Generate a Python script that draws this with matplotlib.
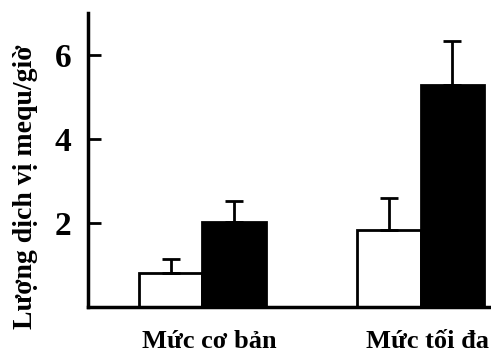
import numpy as np
import matplotlib.pyplot as plt

groups = ["Mức cơ bản", "Mức tối đa"]
white_vals = [0.81, 1.83]
white_err = [0.33, 0.77]
black_vals = [2.02, 5.29]
black_err = [0.50, 1.05]
y_ticks = [2, 4, 6]

plt.rcParams["font.family"] = ["Liberation Serif", "DejaVu Serif"]
plt.rcParams["font.weight"] = "bold"

fig = plt.figure(figsize=(4.91, 3.61), dpi=100)
ax = fig.add_axes([0.179, 0.150, 0.821, 0.814])

x = np.arange(len(groups))
w = 0.29

ax.bar(x - w / 2, white_vals, w, color="white", edgecolor="black", linewidth=2, zorder=2)
ax.bar(x + w / 2, black_vals, w, color="black", edgecolor="black", linewidth=2, zorder=2)

zeros = [0] * len(groups)
ax.errorbar(x - w / 2, white_vals, yerr=[zeros, white_err], fmt="none", ecolor="black",
            elinewidth=2, capsize=6.5, capthick=2, zorder=3)
ax.errorbar(x + w / 2, black_vals, yerr=[zeros, black_err], fmt="none", ecolor="black",
            elinewidth=2, capsize=6.5, capthick=2, zorder=3)

ax.set_xlim(-0.525, 1.323)
ax.set_ylim(0, 7)
ax.set_yticks(y_ticks)
ax.set_yticklabels([str(t) for t in y_ticks], fontsize=24, fontweight="bold")
ax.set_xticks(x + 0.03)
ax.set_xticklabels(groups, fontsize=19, fontweight="bold")

ax.tick_params(axis="y", direction="in", length=9, width=2, pad=12)
ax.tick_params(axis="x", length=0, pad=17)

for side in ["top", "right"]:
    ax.spines[side].set_visible(False)
for side in ["left", "bottom"]:
    ax.spines[side].set_linewidth(2.5)

ax.set_ylabel("Lượng dịch vị mequ/giờ", fontsize=20, fontweight="bold")
ax.yaxis.set_label_coords(-0.125, 0.41)

fig.savefig("out.png", dpi=100)
